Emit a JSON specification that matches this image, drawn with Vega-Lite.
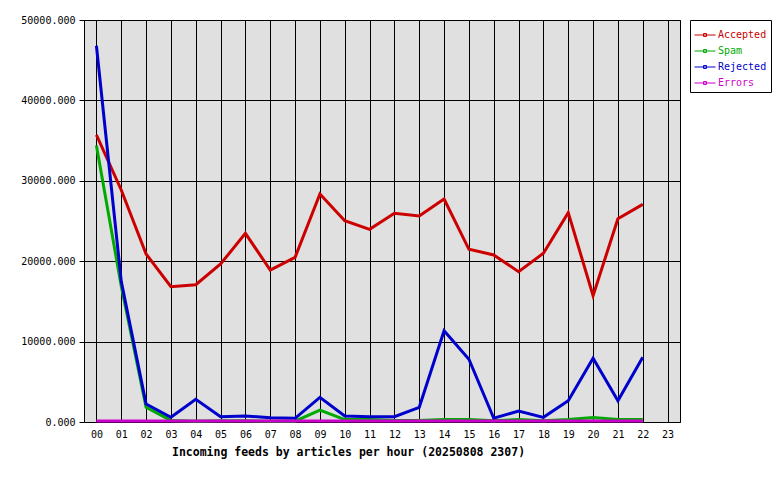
{
  "$schema": "https://vega.github.io/schema/vega-lite/v6.json",
  "width": 596,
  "height": 402,
  "autosize": {"type": "none"},
  "padding": {"left": 84, "top": 20, "right": 100, "bottom": 58},
  "background": "white",
  "config": {
    "view": {"fill": "#e0e0e0", "stroke": "black", "strokeWidth": 1},
    "font": "DejaVu Sans Mono"
  },
  "data": {
    "values": [
      {"hour": "00", "series": "Accepted", "v": 35700},
      {"hour": "01", "series": "Accepted", "v": 28860},
      {"hour": "02", "series": "Accepted", "v": 20900},
      {"hour": "03", "series": "Accepted", "v": 16830},
      {"hour": "04", "series": "Accepted", "v": 17080},
      {"hour": "05", "series": "Accepted", "v": 19650},
      {"hour": "06", "series": "Accepted", "v": 23470},
      {"hour": "07", "series": "Accepted", "v": 18900},
      {"hour": "08", "series": "Accepted", "v": 20480},
      {"hour": "09", "series": "Accepted", "v": 28360},
      {"hour": "10", "series": "Accepted", "v": 25040},
      {"hour": "11", "series": "Accepted", "v": 23960},
      {"hour": "12", "series": "Accepted", "v": 25960},
      {"hour": "13", "series": "Accepted", "v": 25620},
      {"hour": "14", "series": "Accepted", "v": 27740},
      {"hour": "15", "series": "Accepted", "v": 21480},
      {"hour": "16", "series": "Accepted", "v": 20770},
      {"hour": "17", "series": "Accepted", "v": 18700},
      {"hour": "18", "series": "Accepted", "v": 20980},
      {"hour": "19", "series": "Accepted", "v": 26040},
      {"hour": "20", "series": "Accepted", "v": 15710},
      {"hour": "21", "series": "Accepted", "v": 25290},
      {"hour": "22", "series": "Accepted", "v": 27070},
      {"hour": "00", "series": "Spam", "v": 34400},
      {"hour": "01", "series": "Spam", "v": 16900},
      {"hour": "02", "series": "Spam", "v": 1830},
      {"hour": "03", "series": "Spam", "v": 200},
      {"hour": "04", "series": "Spam", "v": 100},
      {"hour": "05", "series": "Spam", "v": 150},
      {"hour": "06", "series": "Spam", "v": 150},
      {"hour": "07", "series": "Spam", "v": 100},
      {"hour": "08", "series": "Spam", "v": 100},
      {"hour": "09", "series": "Spam", "v": 1490},
      {"hour": "10", "series": "Spam", "v": 300},
      {"hour": "11", "series": "Spam", "v": 300},
      {"hour": "12", "series": "Spam", "v": 200},
      {"hour": "13", "series": "Spam", "v": 200},
      {"hour": "14", "series": "Spam", "v": 320},
      {"hour": "15", "series": "Spam", "v": 320},
      {"hour": "16", "series": "Spam", "v": 150},
      {"hour": "17", "series": "Spam", "v": 300},
      {"hour": "18", "series": "Spam", "v": 150},
      {"hour": "19", "series": "Spam", "v": 300},
      {"hour": "20", "series": "Spam", "v": 550},
      {"hour": "21", "series": "Spam", "v": 300},
      {"hour": "22", "series": "Spam", "v": 320},
      {"hour": "00", "series": "Rejected", "v": 46800},
      {"hour": "01", "series": "Rejected", "v": 17500},
      {"hour": "02", "series": "Rejected", "v": 2240},
      {"hour": "03", "series": "Rejected", "v": 580},
      {"hour": "04", "series": "Rejected", "v": 2820},
      {"hour": "05", "series": "Rejected", "v": 660},
      {"hour": "06", "series": "Rejected", "v": 750},
      {"hour": "07", "series": "Rejected", "v": 520},
      {"hour": "08", "series": "Rejected", "v": 460},
      {"hour": "09", "series": "Rejected", "v": 3070},
      {"hour": "10", "series": "Rejected", "v": 750},
      {"hour": "11", "series": "Rejected", "v": 660},
      {"hour": "12", "series": "Rejected", "v": 660},
      {"hour": "13", "series": "Rejected", "v": 1830},
      {"hour": "14", "series": "Rejected", "v": 11360},
      {"hour": "15", "series": "Rejected", "v": 7800},
      {"hour": "16", "series": "Rejected", "v": 460},
      {"hour": "17", "series": "Rejected", "v": 1370},
      {"hour": "18", "series": "Rejected", "v": 580},
      {"hour": "19", "series": "Rejected", "v": 2650},
      {"hour": "20", "series": "Rejected", "v": 7920},
      {"hour": "21", "series": "Rejected", "v": 2650},
      {"hour": "22", "series": "Rejected", "v": 8040},
      {"hour": "00", "series": "Errors", "v": 120},
      {"hour": "01", "series": "Errors", "v": 120},
      {"hour": "02", "series": "Errors", "v": 120},
      {"hour": "03", "series": "Errors", "v": 120},
      {"hour": "04", "series": "Errors", "v": 120},
      {"hour": "05", "series": "Errors", "v": 120},
      {"hour": "06", "series": "Errors", "v": 120},
      {"hour": "07", "series": "Errors", "v": 120},
      {"hour": "08", "series": "Errors", "v": 120},
      {"hour": "09", "series": "Errors", "v": 120},
      {"hour": "10", "series": "Errors", "v": 120},
      {"hour": "11", "series": "Errors", "v": 120},
      {"hour": "12", "series": "Errors", "v": 120},
      {"hour": "13", "series": "Errors", "v": 120},
      {"hour": "14", "series": "Errors", "v": 120},
      {"hour": "15", "series": "Errors", "v": 120},
      {"hour": "16", "series": "Errors", "v": 120},
      {"hour": "17", "series": "Errors", "v": 120},
      {"hour": "18", "series": "Errors", "v": 120},
      {"hour": "19", "series": "Errors", "v": 120},
      {"hour": "20", "series": "Errors", "v": 120},
      {"hour": "21", "series": "Errors", "v": 120},
      {"hour": "22", "series": "Errors", "v": 120}
    ]
  },
  "mark": {"type": "line", "strokeWidth": 3, "strokeJoin": "miter", "strokeCap": "butt"},
  "encoding": {
    "x": {
      "field": "hour",
      "type": "ordinal",
      "scale": {
        "type": "point",
        "padding": 0.5,
        "domain": ["00","01","02","03","04","05","06","07","08","09","10","11","12","13","14","15","16","17","18","19","20","21","22","23"]
      },
      "axis": {
        "title": "Incoming feeds by articles per hour (20250808 2307)",
        "titleFont": "DejaVu Sans Mono",
        "titleFontWeight": "bold",
        "titleFontSize": 11.5,
        "titleColor": "black",
        "titlePadding": 7,
        "titleX": 264,
        "titleAnchor": null,
        "titleAlign": "center",
        "labelAngle": 0,
        "labelFont": "DejaVu Sans Mono",
        "labelFontSize": 10,
        "labelColor": "black",
        "labelPadding": 7,
        "ticks": false,
        "domain": false,
        "grid": true,
        "gridColor": "black",
        "gridOpacity": 1,
        "gridWidth": 1
      }
    },
    "y": {
      "field": "v",
      "type": "quantitative",
      "scale": {"domain": [0, 50000], "nice": false},
      "axis": {
        "title": null,
        "values": [0, 10000, 20000, 30000, 40000, 50000],
        "format": ".3f",
        "labelFont": "DejaVu Sans Mono",
        "labelFontSize": 10,
        "labelColor": "black",
        "labelPadding": 4,
        "tickSize": 5,
        "tickColor": "black",
        "domain": false,
        "grid": true,
        "gridColor": "black",
        "gridOpacity": 1,
        "gridWidth": 1
      }
    },
    "color": {
      "field": "series",
      "type": "nominal",
      "scale": {
        "domain": ["Accepted", "Spam", "Rejected", "Errors"],
        "range": ["#cc0000", "#00aa00", "#0000cc", "#cc00cc"]
      },
      "legend": {
        "orient": "none",
        "legendX": 606,
        "legendY": 0,
        "title": null,
        "strokeColor": "black",
        "fillColor": "white",
        "cornerRadius": 0,
        "padding": 4,
        "symbolType": "M-1,0H1M-0.14,-0.14H0.14V0.14H-0.14Z",
        "symbolSize": 441,
        "symbolStrokeWidth": 1,
        "symbolFillColor": "transparent",
        "labelFont": "DejaVu Sans Mono",
        "labelFontSize": 10,
        "labelOffset": 2,
        "labelColor": {"expr": "scale('color', datum.value)"},
        "rowPadding": -2
      }
    }
  }
}
